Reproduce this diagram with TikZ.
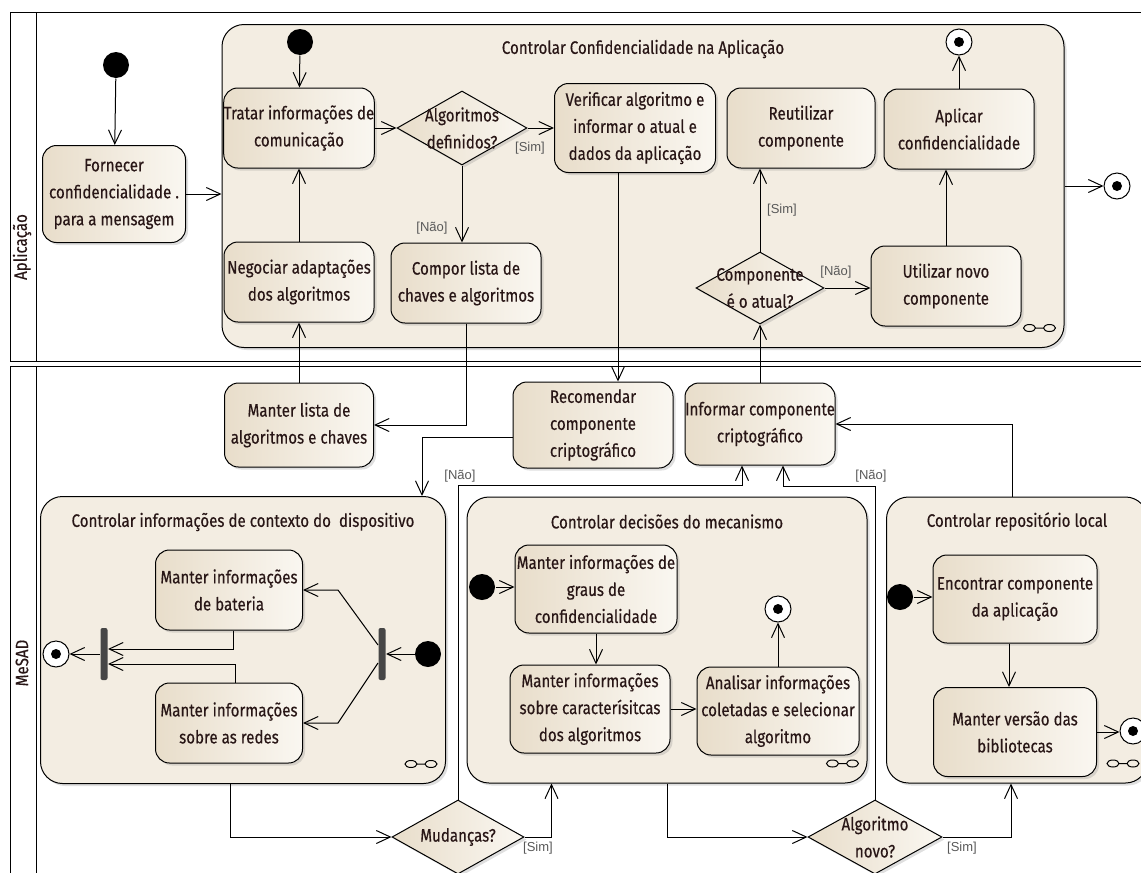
\documentclass[tikz,border=0pt]{standalone}
\usepackage{fontspec}
\setmainfont{Fira Sans}[FakeStretch=0.84, FakeBold=0.4]
\newfontfamily\guardfont{Liberation Sans}
\usetikzlibrary{shapes.geometric, arrows.meta, shadows}

\definecolor{bege}{RGB}{232,221,202}
\definecolor{begeclaro}{RGB}{250,247,241}
\definecolor{fundo}{RGB}{243,237,226}
\definecolor{texto}{RGB}{40,22,22}
\definecolor{cinzabarra}{RGB}{70,70,70}

\begin{document}
\begin{tikzpicture}[x=1pt, y=-1pt, line width=1pt, text=texto, font=\fontsize{18}{27}\selectfont,
    sombra/.style={drop shadow={opacity=0.25, shadow xshift=2.5pt, shadow yshift=-2.5pt}},
    acao/.style={draw, rounded corners=14pt, left color=bege, right color=begeclaro, sombra, align=center, inner sep=0pt, minimum width=150pt, minimum height=80pt},
    grupo/.style={draw, rounded corners=22pt, fill=fundo, sombra, inner sep=0pt},
    decisao/.style={diamond, draw, left color=bege, right color=begeclaro, sombra, inner sep=0pt, minimum width=130pt, minimum height=74pt},
    inicio/.style={circle, fill=black, inner sep=0pt, minimum size=26pt},
    fim/.style={circle, draw, fill=white, inner sep=0pt, minimum size=26pt, path picture={\fill[black] (path picture bounding box.center) circle (5pt);}},
    barra/.style={fill=cinzabarra, rounded corners=2pt, inner sep=0pt, minimum width=7pt, minimum height=52pt},
    guarda/.style={font=\guardfont\fontsize{13}{15}\selectfont, text=black!65},
    seta/.style={-{Straight Barb[length=14pt, width=13pt]}}]
\useasboundingbox (0,0) rectangle (1141,873);
\draw (10,12) rectangle (1150,361) (36,12) -- (36,361);
\draw (10,366) rectangle (1150,890) (36,366) -- (36,890);
\node[rotate=90] (raiaapp) at (22,247) {Aplicação};
\node[rotate=90] (raiamesad) at (22,663) {MeSAD};

\node[grupo, minimum width=842pt, minimum height=323pt] (ctrlapp) at (643,186) {};
\node[grupo, minimum width=405pt, minimum height=287pt] (ctrlcontexto) at (243,640) {};
\node[grupo, minimum width=400pt, minimum height=286pt] (ctrldecisoes) at (667,640) {};
\node[grupo, minimum width=261pt, minimum height=286pt] (ctrlrepo) at (1017,640) {};
\node (tituloapp) at ([yshift=-25pt]ctrlapp.north) {Controlar Confidencialidade na Aplicação};
\node (titulocontexto) at ([yshift=-26pt]ctrlcontexto.north) {Controlar informações de contexto do\ \ dispositivo};
\node (titulodecisoes) at ([yshift=-25pt]ctrldecisoes.north) {Controlar decisões do mecanismo};
\node (titulorepo) at ([yshift=-25pt]ctrlrepo.north) {Controlar repositório local};
\foreach \grupo in {ctrlapp, ctrlcontexto, ctrldecisoes, ctrlrepo}
    \draw ([shift={(-35,-20)}]\grupo.south east) circle[x radius=6pt, y radius=3.5pt] ++(6,0) -- ++(8,0) ++(6,0) circle[x radius=6pt, y radius=3.5pt];

\node[inicio] (ini1) at (116,65) {};
\node[acao, minimum width=143pt, minimum height=97pt] (fornecer) at (114,194) {Fornecer\\confidencialidade .\\para a mensagem};
\node[inicio] (ini2) at (300,42) {};
\node[acao] (tratar) at (299,128) {Tratar informações de\\comunicação};
\node[acao] (negociar) at (299,282) {Negociar adaptações\\dos algoritmos};
\node[decisao, label={[align=center]center:Algoritmos\\definidos?}] (algdef) at (462,128) {};
\node[acao, minimum width=161pt, minimum height=89pt] (verificar) at (635,128) {Verificar algoritmo e\\informar o atual e\\dados da aplicação};
\node[acao] (compor) at (466,283) {Compor lista de\\chaves e algoritmos};
\node[acao, minimum width=148pt] (reutilizar) at (801,128) {Reutilizar\\componente};
\node[acao] (aplicar) at (959,129) {Aplicar\\confidencialidade};
\node[fim] (fim1) at (959,42) {};
\node[decisao, minimum width=128pt, minimum height=72pt, label={[align=center]center:Componente\\é o atual?}] (compatual) at (760,288) {};
\node[acao] (utilizar) at (946,286) {Utilizar novo\\componente};
\node[fim] (fim2) at (1117,186) {};

\node[acao, minimum width=149pt, minimum height=84pt] (manterlista) at (299,425) {Manter lista de\\algoritmos e chaves};
\node[acao, minimum width=160pt, minimum height=86pt] (recomendar) at (593,425) {Recomendar\\componente\\criptográfico};
\node[acao, minimum height=82pt] (informar) at (760,424) {Informar componente\\criptográfico};

\node[inicio] (ini3) at (428,654) {};
\node[barra] (bifurca) at (382,654) {};
\node[barra] (junta) at (104,654) {};
\node[fim] (fim3) at (56,654) {};
\node[acao, minimum width=147pt] (bateria) at (229,590) {Manter informações\\de bateria};
\node[acao, minimum width=147pt] (redes) at (229,723) {Manter informações\\sobre as redes};

\node[inicio] (ini4) at (482,587) {};
\node[acao, minimum width=162pt, minimum height=88pt] (graus) at (596,589) {Manter informações de\\graus de\\confidencialidade};
\node[acao, minimum width=160pt, minimum height=88pt] (caract) at (590,709) {Manter informações\\sobre caracterísitcas\\dos algoritmos};
\node[acao, minimum width=162pt, minimum height=88pt] (analisar) at (778,711) {Analisar informações\\coletadas e selecionar\\algoritmo};
\node[fim] (fim4) at (778,609) {};

\node[inicio] (ini5) at (900,597) {};
\node[acao, minimum width=164pt, minimum height=88pt] (encontrar) at (1015,599) {Encontrar componente\\da aplicação};
\node[acao, minimum width=163pt, minimum height=89pt] (versao) at (1015,732) {Manter versão das\\bibliotecas};
\node[fim] (fim5) at (1133,731) {};

\node[decisao, minimum width=132pt, label=center:Mudanças?] (mudancas) at (458,837) {};
\node[decisao, minimum width=134pt, label={[align=center]center:Algoritmo\\novo?}] (algnovo) at (875,837) {};

\node[guarda] (simalgdef) at (530,148) {[Sim]};
\node[guarda] (naoalgdef) at (432,228) {[Não]};
\node[guarda] (simcomp) at (782,210) {[Sim]};
\node[guarda] (naocomp) at (836,272) {[Não]};
\node[guarda] (naomud) at (460,476) {[Não]};
\node[guarda] (naoalg) at (871,476) {[Não]};
\node[guarda] (simmud) at (538,848) {[Sim]};
\node[guarda] (simalg) at (962,848) {[Sim]};

\draw[seta] (ini1) -- (fornecer);
\draw[seta] (fornecer.east) -- (fornecer.east -| ctrlapp.west);
\draw[seta] (ini2) -- (tratar);
\draw[seta] (negociar) -- (tratar);
\draw[seta] (tratar) -- (algdef);
\draw[seta] (algdef) -- (verificar);
\draw[seta] (algdef.south) -- (algdef.south |- compor.north);
\draw[seta] (aplicar) -- (fim1);
\draw[seta] (utilizar.north) -- (utilizar.north |- aplicar.south);
\draw[seta] (compatual.north) -- (compatual.north |- reutilizar.south);
\draw[seta] (compatual.east) -- (compatual.east -| utilizar.west);
\draw[seta] (ctrlapp.east) -- (fim2);

\draw[seta] ([xshift=-17pt]verificar.south) -- ([xshift=-17pt]verificar.south |- recomendar.north);
\draw[seta] (compor.south) |- (manterlista.east);
\draw[seta] (manterlista) -- (negociar);
\draw[seta] (informar) -- (compatual);
\draw[seta] ([yshift=-12pt]recomendar.west) -| ([xshift=-24pt]ctrlcontexto.north east);
\draw[seta] ([xshift=126pt]ctrlrepo.north west) |- (informar.east);
\draw[seta] (mudancas.north) -- ++(0,-314) -| ([xshift=-18pt]informar.south);
\draw[seta] (algnovo.north) -- ++(0,-313) -| ([xshift=23pt]informar.south);
\draw[seta] ([xshift=-13pt]ctrlcontexto.south) |- (mudancas.west);
\draw[seta] (mudancas.east) -| ([xshift=85pt]ctrldecisoes.south west);
\draw[seta] (ctrldecisoes.south) |- (algnovo.west);
\draw[seta] (algnovo.east) -| ([xshift=125pt]ctrlrepo.south west);

\draw[seta] (ini3) -- (bifurca);
\draw[seta] ([yshift=9pt]bifurca.west) -- ([xshift=35pt]bateria.east) -- (bateria.east);
\draw[seta] ([yshift=-9pt]bifurca.west) -- ([xshift=35pt]redes.east) -- (redes.east);
\draw[seta] ([xshift=4pt]bateria.south) |- ([yshift=5pt]junta.east);
\draw[seta] ([xshift=6pt]redes.north) |- ([yshift=-10pt]junta.east);
\draw[seta] (junta) -- (fim3);

\draw[seta] (ini4) -- (ini4 -| graus.west);
\draw[seta] (graus.south) -- (graus.south |- caract.north);
\draw[seta] (caract.east) -- (caract.east -| analisar.west);
\draw[seta] (analisar) -- (fim4);

\draw[seta] (ini5) -- (ini5 -| encontrar.west);
\draw[seta] ([xshift=-6pt]encontrar.south) -- ([xshift=-6pt]versao.north);
\draw[seta] (versao.east) -- (versao.east -| fim5.west);
\end{tikzpicture}
\end{document}
